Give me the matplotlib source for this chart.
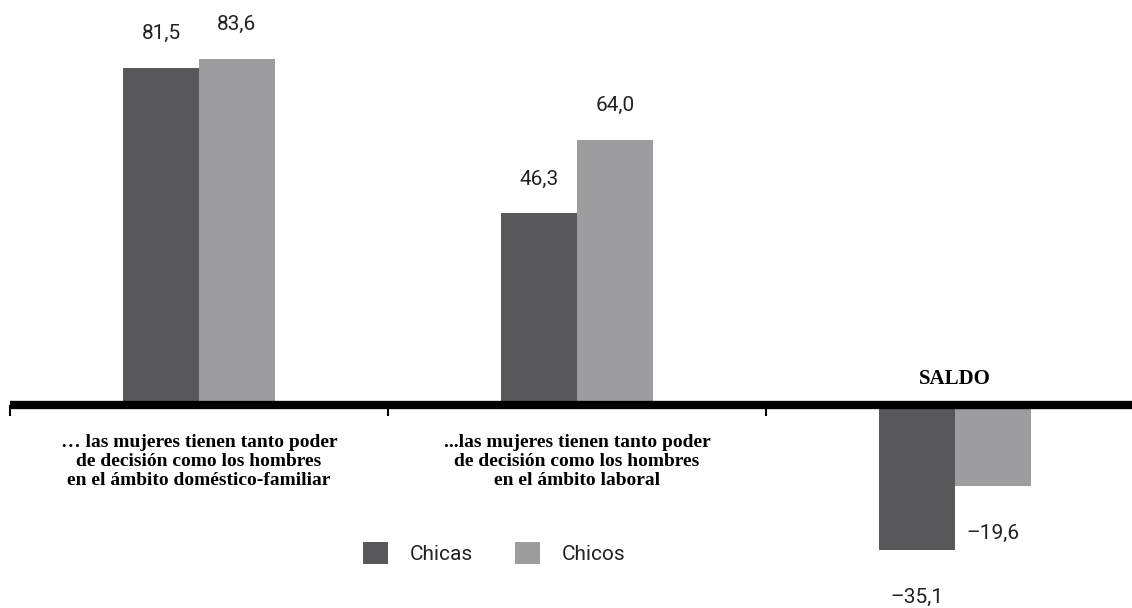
import numpy as np
import matplotlib
matplotlib.use("Agg")
import matplotlib.pyplot as plt

categories = ["\u2026 las mujeres tienen tanto poder\nde decisión como los hombres\nen el ámbito doméstico-familiar",
              "...las mujeres tienen tanto poder\nde decisión como los hombres\nen el ámbito laboral",
              ""]
chicas = [81.5, 46.3, -35.1]
chicos = [83.6, 64.0, -19.6]
series_names = ["Chicas", "Chicos"]
colors = ["#58585a", "#9d9d9f"]

sans = ["Roboto", "Liberation Sans", "DejaVu Sans"]
serif = ["Liberation Serif", "DejaVu Serif"]

def fmt(v):
    return f"{v:.1f}".replace(".", ",").replace("-", "\u2013")

fig = plt.figure(figsize=(11.32, 6.08), dpi=100)
ax = fig.add_axes([10/1132, 0, 1134/1132, 1])
ax.set_xlim(-0.5, 2.5)
ax.set_ylim(-49.1, 97.9)
ax.axis("off")

x = np.arange(len(chicas))
w = 0.2
b1 = ax.bar(x - w/2, chicas, w, color=colors[0], label=series_names[0])
b2 = ax.bar(x + w/2, chicos, w, color=colors[1], label=series_names[1])

for bars, vals in [(b1, chicas), (b2, chicos)]:
    for rect, v in zip(bars, vals):
        cx = rect.get_x() + rect.get_width()/2
        if v >= 0:
            ax.annotate(fmt(v), (cx, v), xytext=(0, 18), textcoords="offset points",
                        ha="center", va="bottom", fontsize=15, family=sans, color="#222222")
        else:
            ax.annotate(fmt(v), (cx, v), xytext=(0, -34), textcoords="offset points",
                        ha="center", va="center", fontsize=15, family=sans, color="#222222")

ax.axhline(0, color="black", lw=6, zorder=5)
ax.vlines([-0.5, 0.5, 1.5], -2.7, 0, color="black", lw=1.5, clip_on=False)

for i, lab in enumerate(categories):
    ax.annotate(lab, (i, 0), xytext=(0, -21), textcoords="offset points",
                ha="center", va="top", multialignment="center", fontsize=14,
                fontweight="bold", family=serif, linespacing=1.15)

ax.annotate("SALDO", (2, 0), xytext=(0, 19), textcoords="offset points",
            ha="center", va="center", fontsize=15, fontweight="bold", family=serif)

leg = ax.legend(loc="center", bbox_to_anchor=(494/1132, 55/608), bbox_transform=fig.transFigure,
                ncol=2, frameon=False, handlelength=1.2, handleheight=1.2,
                handletextpad=1.05, columnspacing=2.0,
                prop={"family": sans, "size": 15})
for t in leg.get_texts():
    t.set_color("#222222")

fig.savefig("out.png", dpi=100)
